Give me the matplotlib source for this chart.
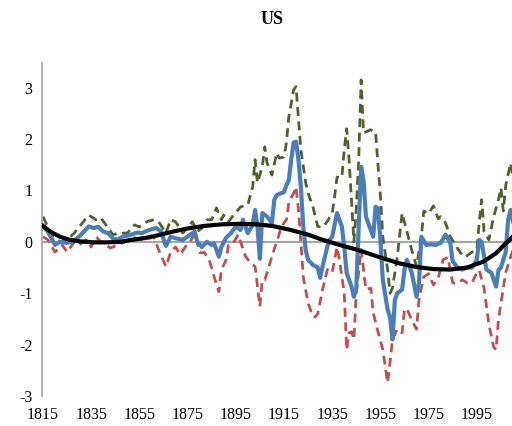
import matplotlib
matplotlib.use("Agg")
import matplotlib.pyplot as plt

plt.rcParams['font.family'] = ['Liberation Serif', 'DejaVu Serif']
plt.rcParams['axes.unicode_minus'] = False

# blue solid series
blue_years = [1815, 1817, 1820, 1822, 1825, 1827, 1830, 1832, 1834, 1836, 1838, 1840, 1842, 1844,
              1846, 1848, 1851, 1854, 1856, 1859, 1862, 1864, 1866, 1868, 1870, 1873, 1875, 1877,
              1878, 1879, 1881, 1883, 1885, 1886, 1888, 1889, 1891, 1893, 1895, 1897, 1898, 1900,
              1902, 1903, 1904, 1905, 1906, 1908, 1910, 1911, 1912, 1915, 1916, 1917, 1918, 1919,
              1920, 1921, 1922, 1923, 1924, 1925, 1927, 1929, 1930, 1931, 1933, 1934, 1935, 1937,
              1939, 1940, 1941, 1943, 1944, 1945, 1946, 1947, 1948, 1949, 1951, 1952, 1953, 1954,
              1955, 1956, 1958, 1959, 1960, 1961, 1962, 1964, 1965, 1966, 1968, 1970, 1971, 1972,
              1974, 1976, 1978, 1980, 1982, 1984, 1985, 1987, 1989, 1991, 1993, 1995, 1996, 1997,
              1998, 1999, 2001, 2003, 2004, 2005, 2007, 2008, 2009, 2010]
blue_vals = [0.30, 0.20, -0.06, 0.0, -0.02, 0.0, 0.10, 0.20, 0.30, 0.27, 0.29, 0.20, 0.17, 0.07,
             0.04, 0.10, 0.13, 0.18, 0.17, 0.23, 0.27, 0.20, -0.08, 0.10, 0.07, 0.04, 0.10, 0.17,
             0.20, 0.0, -0.10, 0.0, -0.06, -0.03, -0.29, -0.10, 0.08, 0.17, 0.30, 0.23, 0.43, 0.17,
             0.33, 0.62, 0.29, -0.33, 0.56, 0.49, 0.37, 0.82, 0.91, 0.97, 1.10, 1.20, 1.60, 1.93,
             1.95, 1.60, 1.07, 0.30, -0.16, -0.35, -0.45, -0.50, -0.70, -0.48, -0.09, 0.04, 0.10, 0.56,
             0.30, -0.10, -0.60, -0.87, -1.07, -0.90, 0.30, 1.46, 1.20, 0.49, 0.23, 0.10, 0.68, 0.65,
             0.04, -0.74, -1.32, -1.46, -1.90, -1.13, -1.00, -0.93, -0.54, -0.35, -0.60, -1.07, -0.80, 0.10,
             -0.06, -0.05, -0.06, -0.02, 0.14, -0.02, -0.38, -0.50, -0.54, -0.50, -0.50, -0.35, 0.04, 0.0,
             -0.28, -0.54, -0.60, -0.87, -0.55, -0.50, -0.20, 0.43, 0.62, 0.40]

# green dashed series
green_years = [1815, 1817, 1819, 1822, 1825, 1828, 1830, 1834, 1837, 1839, 1842, 1844, 1847, 1850,
               1853, 1855, 1858, 1861, 1863, 1866, 1868, 1870, 1873, 1877, 1879, 1881, 1883, 1885,
               1887, 1889, 1890, 1892, 1894, 1897, 1900, 1902, 1903, 1904, 1906, 1907, 1908, 1910,
               1912, 1913, 1915, 1916, 1917, 1919, 1920, 1921, 1922, 1924, 1925, 1927, 1929, 1931,
               1933, 1935, 1936, 1937, 1939, 1940, 1941, 1942, 1943, 1944, 1945, 1946, 1947, 1948,
               1951, 1952, 1953, 1954, 1955, 1956, 1958, 1959, 1960, 1962, 1964, 1966, 1968, 1970,
               1972, 1973, 1975, 1977, 1979, 1980, 1982, 1984, 1986, 1988, 1990, 1993, 1995, 1996,
               1997, 1998, 2000, 2002, 2004, 2005, 2006, 2007, 2009, 2010]
green_vals = [0.49, 0.29, 0.10, 0.0, 0.04, 0.17, 0.29, 0.52, 0.43, 0.47, 0.27, 0.14, 0.17, 0.17,
              0.33, 0.29, 0.39, 0.43, 0.39, 0.17, 0.43, 0.39, 0.17, 0.39, 0.20, 0.27, 0.43, 0.43,
              0.66, 0.43, 0.52, 0.39, 0.52, 0.68, 0.72, 1.07, 1.60, 1.15, 1.46, 1.85, 1.53, 1.30,
              1.73, 1.63, 1.65, 1.93, 2.43, 2.96, 3.02, 2.40, 1.79, 1.15, 0.95, 0.68, 0.30, 0.28,
              0.40, 0.55, 0.88, 1.26, 1.25, 1.79, 2.20, 1.60, 0.82, 0.0, 0.65, 1.60, 3.15, 2.12,
              2.18, 2.15, 2.14, 1.50, 0.90, 0.10, -0.54, -1.00, -0.90, -0.30, 0.56, 0.20, -0.16, -0.48,
              0.10, 0.60, 0.55, 0.70, 0.45, 0.49, 0.37, 0.10, -0.05, -0.20, -0.30, -0.20, -0.16, 0.37,
              0.82, 0.20, 0.04, 0.49, 0.82, 1.05, 0.60, 1.10, 1.53, 1.26]

# red dashed series
red_years = [1815, 1817, 1820, 1823, 1825, 1828, 1830, 1833, 1835, 1837, 1839, 1843, 1846, 1848,
             1851, 1853, 1856, 1860, 1861, 1863, 1866, 1868, 1870, 1872, 1874, 1876, 1878, 1880,
             1882, 1884, 1886, 1888, 1889, 1891, 1892, 1894, 1896, 1899, 1901, 1903, 1905, 1906,
             1907, 1908, 1910, 1912, 1914, 1916, 1917, 1919, 1920, 1921, 1922, 1923, 1925, 1927,
             1928, 1929, 1931, 1933, 1935, 1937, 1938, 1940, 1941, 1942, 1943, 1944, 1945, 1947,
             1949, 1951, 1952, 1954, 1956, 1958, 1959, 1960, 1962, 1964, 1965, 1966, 1968, 1970,
             1971, 1973, 1975, 1977, 1979, 1981, 1983, 1985, 1987, 1989, 1991, 1993, 1995, 1996,
             1998, 2000, 2002, 2003, 2004, 2006, 2007, 2009, 2010]
red_vals = [0.10, 0.04, -0.20, -0.06, -0.20, 0.0, -0.06, 0.04, -0.10, 0.10, 0.0, -0.12, -0.06, -0.02,
            0.04, 0.08, 0.04, 0.08, 0.10, -0.16, -0.48, -0.20, -0.10, -0.25, -0.10, 0.0, 0.17, -0.21,
            -0.21, -0.35, -0.68, -0.97, -0.55, -0.35, -0.06, -0.02, 0.14, -0.28, -0.41, -0.48, -1.26, -0.74,
            -0.74, -0.60, -0.28, 0.0, 0.30, 0.43, 0.76, 0.95, 1.07, 0.62, 0.0, -0.68, -1.19, -1.46,
            -1.46, -1.40, -0.93, -0.54, -0.60, -0.10, -0.35, -1.00, -2.10, -1.77, -1.75, -1.90, -1.00, -0.15,
            -0.93, -0.90, -1.38, -1.75, -2.10, -2.74, -2.35, -1.90, -1.70, -1.77, -1.32, -1.30, -1.52, -1.70,
            -1.13, -0.68, -0.62, -0.84, -0.70, -0.35, -0.30, -0.80, -0.80, -0.74, -0.80, -0.80, -0.60, -0.55,
            -0.90, -1.60, -2.05, -2.10, -1.50, -0.90, -0.60, -0.30, -0.16]

# black trend curve
trend_years = [1815, 1818, 1822, 1826, 1830, 1836, 1842, 1847, 1852, 1858, 1863, 1868, 1875, 1882,
               1889, 1896, 1904, 1910, 1917, 1925, 1931, 1938, 1945, 1949, 1956, 1963, 1970, 1977,
               1984, 1991, 1998, 2003, 2007, 2010]
trend_vals = [0.31, 0.20, 0.10, 0.04, 0.01, -0.01, -0.01, 0.0, 0.04, 0.08, 0.13, 0.19, 0.26, 0.31,
              0.34, 0.35, 0.34, 0.31, 0.24, 0.14, 0.04, -0.06, -0.15, -0.21, -0.32, -0.42, -0.49, -0.53,
              -0.54, -0.50, -0.38, -0.22, -0.03, 0.10]

x_ticks = [1815, 1835, 1855, 1875, 1895, 1915, 1935, 1955, 1975, 1995]
y_ticks = [-3, -2, -1, 0, 1, 2, 3]

fig = plt.figure(figsize=(5.12, 4.26), dpi=100)
ax = fig.add_axes([42 / 512, 30 / 426, 470 / 512, 333 / 426])

ax.axhline(0, color='#A6A6A6', lw=1.6, zorder=1)
ax.plot(green_years, green_vals, color='#4F6228', lw=2.0, dashes=(3.2, 2.0), zorder=2)
ax.plot(red_years, red_vals, color='#C0504D', lw=2.0, dashes=(3.2, 2.0), zorder=2)
ax.plot(blue_years, blue_vals, color='#4A7EBB', lw=3.0, zorder=3)
ax.plot(trend_years, trend_vals, color='black', lw=3.0, zorder=4)

ax.set_xlim(1814.6, 2009.6)
ax.set_ylim(-3, 3.48)
ax.set_xticks(x_ticks)
ax.set_yticks(y_ticks)
ax.tick_params(length=0, labelsize=11.5, colors='black')
ax.tick_params(axis='x', pad=8)
ax.tick_params(axis='y', pad=7)
for s in ['top', 'right', 'bottom']:
    ax.spines[s].set_visible(False)
ax.spines['left'].set_color('#A6A6A6')
ax.spines['left'].set_linewidth(1.2)

fig.text(272 / 512, 1 - 19 / 426, 'US', ha='center', va='center',
         fontsize=13, fontweight='bold')

fig.savefig('out.png', dpi=100)
